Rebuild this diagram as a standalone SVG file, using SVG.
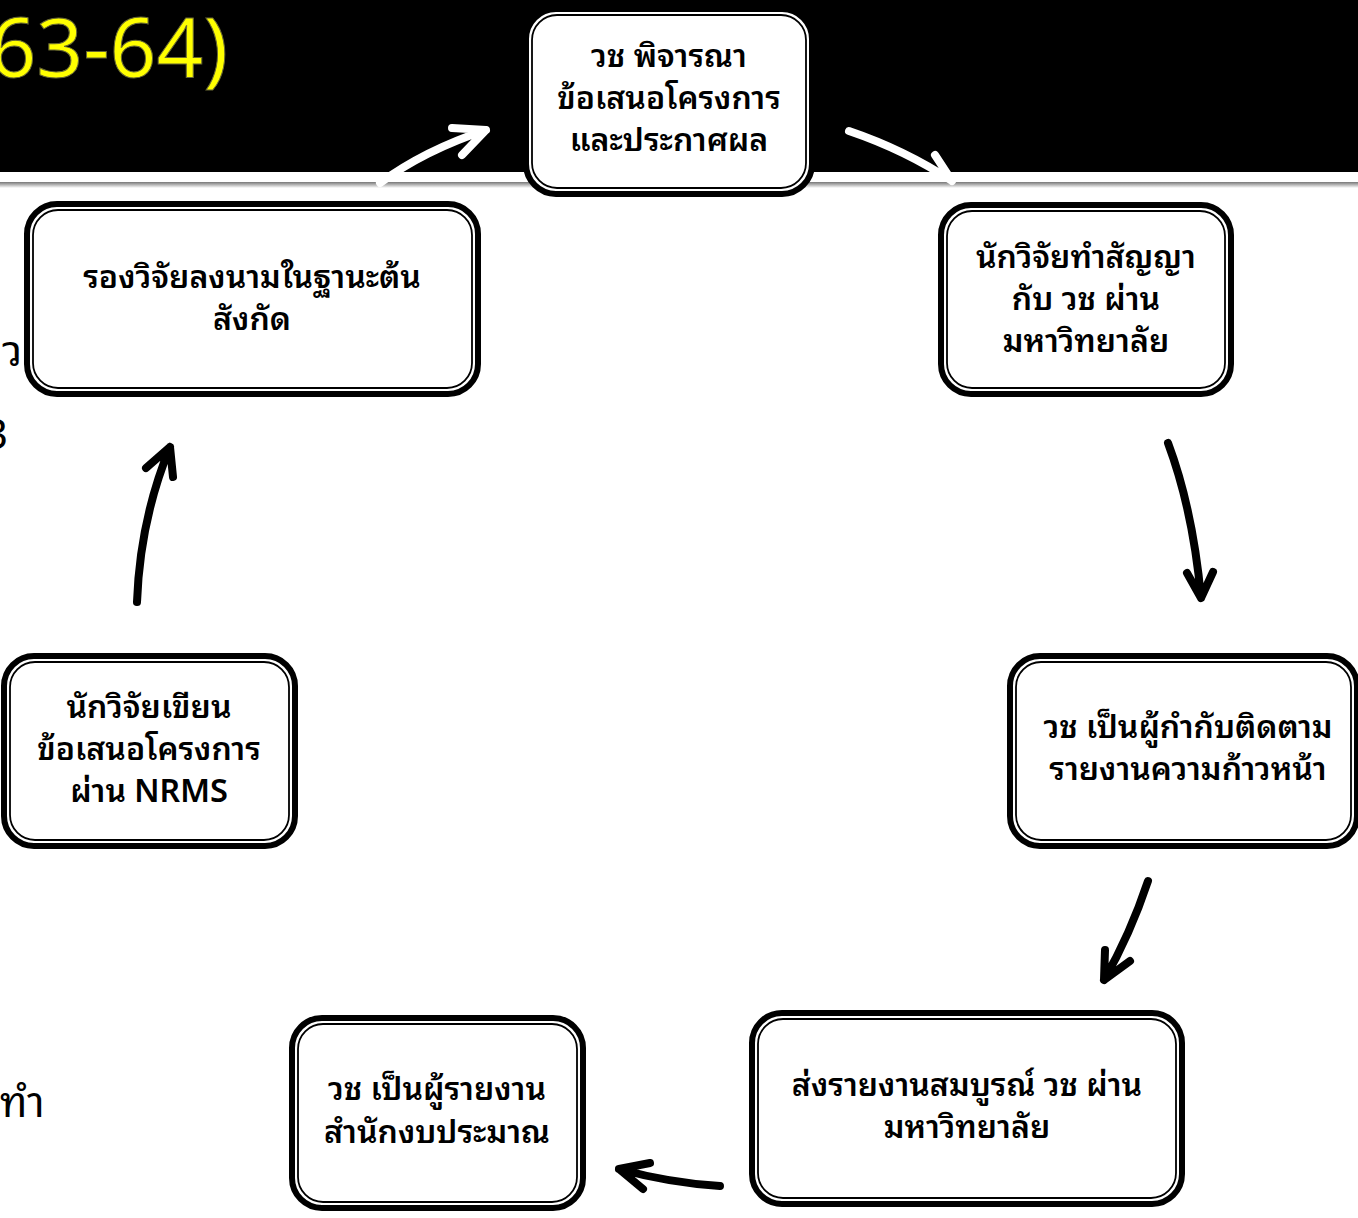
<svg xmlns="http://www.w3.org/2000/svg" width="1358" height="1218" viewBox="0 0 1358 1218">
<style>
.o{fill:#fff;stroke:#000;stroke-width:6}
.i{fill:none;stroke:#000;stroke-width:1.8}
.t{font-family:"Noto Sans Thai Looped","Noto Sans Thai","Noto Sans","DejaVu Sans",sans-serif;font-size:32px;font-weight:600;fill:#000;text-anchor:middle}
.bg{font-family:"Noto Sans Thai Looped","Noto Sans Thai","Noto Sans","DejaVu Sans",sans-serif;font-size:42px;fill:#000}
.a{fill:none;stroke-width:8;stroke-linecap:round;stroke-linejoin:round}
</style>
<defs>
<linearGradient id="sh" x1="0" y1="0" x2="0" y2="1">
<stop offset="0" stop-color="#777"/><stop offset="1" stop-color="#fff"/>
</linearGradient>
</defs>
<rect width="1358" height="1218" fill="#fff"/>
<rect x="0" y="0" width="1358" height="172" fill="#000"/>
<rect x="0" y="182" width="1358" height="6" fill="url(#sh)"/>
<text x="228" y="77" font-family="'Noto Sans',sans-serif" font-size="82" fill="#ff0" stroke="#663" stroke-width="1" text-anchor="end">63-64)</text>
<text class="bg" x="2" y="366">ว</text>
<text class="bg" x="-16" y="449">3</text>
<text class="bg" x="0" y="1117">ทำ</text>
<g id="connectors">
<path class="a" stroke="#fff" d="M380,183 Q425,150 486,130 M452,128 L486,130 L462,155"/>
<path class="a" stroke="#fff" d="M849,131 Q905,150 952,181 M935,155 L952,181"/>
<path class="a" stroke="#000" d="M1168,443 Q1193,510 1201,598 M1187,573 L1201,598 L1213,572"/>
<path class="a" stroke="#000" d="M1148,881 Q1130,935 1104,980 M1105,950 L1104,980 L1130,961"/>
<path class="a" stroke="#000" d="M720,1186 Q670,1183 619,1169 M650,1163 L619,1169 L643,1189"/>
<path class="a" stroke="#000" d="M137,602 Q140,520 170,447 M146,468 L170,447 L173,477"/>
</g>
<g id="n1"><rect class="o" x="526" y="9" width="286" height="185" rx="30"/><rect class="i" x="532" y="15" width="274" height="173" rx="25"/>
<text class="t" x="669" y="67">วช พิจารณา</text><text class="t" x="669" y="109">ข้อเสนอโครงการ</text><text class="t" x="669" y="151">และประกาศผล</text></g>
<g id="n2"><rect class="o" x="27" y="204" width="451" height="190" rx="30"/><rect class="i" x="33" y="210" width="439" height="178" rx="25"/>
<text class="t" x="252" y="288">รองวิจัยลงนามในฐานะต้น</text><text class="t" x="252" y="330">สังกัด</text></g>
<g id="n3"><rect class="o" x="941" y="205" width="290" height="189" rx="30"/><rect class="i" x="947" y="211" width="278" height="177" rx="25"/>
<text class="t" x="1086" y="268">นักวิจัยทำสัญญา</text><text class="t" x="1086" y="310">กับ วช ผ่าน</text><text class="t" x="1086" y="352">มหาวิทยาลัย</text></g>
<g id="n4"><rect class="o" x="4" y="656" width="291" height="190" rx="30"/><rect class="i" x="10" y="662" width="279" height="178" rx="25"/>
<text class="t" x="149" y="718">นักวิจัยเขียน</text><text class="t" x="149" y="760">ข้อเสนอโครงการ</text><text class="t" x="149" y="802">ผ่าน NRMS</text></g>
<g id="n5"><rect class="o" x="1010" y="656" width="347" height="190" rx="30"/><rect class="i" x="1016" y="662" width="335" height="178" rx="25"/>
<text class="t" x="1188" y="738">วช เป็นผู้กำกับติดตาม</text><text class="t" x="1188" y="780">รายงานความก้าวหน้า</text></g>
<g id="n6"><rect class="o" x="752" y="1013" width="430" height="191" rx="30"/><rect class="i" x="758" y="1019" width="418" height="179" rx="25"/>
<text class="t" x="967" y="1096">ส่งรายงานสมบูรณ์ วช ผ่าน</text><text class="t" x="967" y="1138">มหาวิทยาลัย</text></g>
<g id="n7"><rect class="o" x="292" y="1018" width="291" height="190" rx="30"/><rect class="i" x="298" y="1024" width="279" height="178" rx="25"/>
<text class="t" x="437" y="1100">วช เป็นผู้รายงาน</text><text class="t" x="437" y="1143">สำนักงบประมาณ</text></g>
</svg>
